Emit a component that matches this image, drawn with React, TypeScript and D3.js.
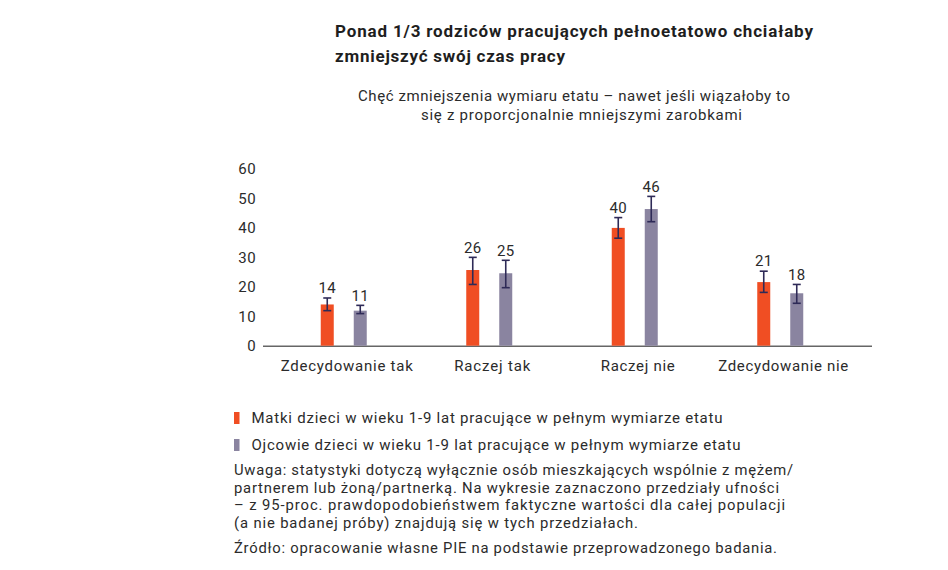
import React from "react";
import * as d3 from "d3";

const categories = ["Zdecydowanie tak", "Raczej tak", "Raczej nie", "Zdecydowanie nie"];
const mothers = [14.0, 25.7, 40.0, 21.6];
const mothersLow = [11.9, 20.8, 36.5, 18.1];
const mothersHigh = [16.2, 30.0, 43.5, 25.3];
const mothersLabels = ["14", "26", "40", "21"];
const fathers = [11.9, 24.6, 46.4, 17.8];
const fathersLow = [10.9, 19.7, 42.1, 14.4];
const fathersHigh = [13.7, 29.0, 50.7, 20.8];
const fathersLabels = ["11", "25", "46", "18"];
const yTicks = [0, 10, 20, 30, 40, 50, 60];

const titleLines = ["Ponad 1/3 rodziców pracujących pełnoetatowo chciałaby", "zmniejszyć swój czas pracy"];
const subtitleLines = ["Chęć zmniejszenia wymiaru etatu – nawet jeśli wiązałoby to", "się z proporcjonalnie mniejszymi zarobkami"];
const legendLabels = [
  "Matki dzieci w wieku 1-9 lat pracujące w pełnym wymiarze etatu",
  "Ojcowie dzieci w wieku 1-9 lat pracujące w pełnym wymiarze etatu",
];
const noteLines = [
  "Uwaga: statystyki dotyczą wyłącznie osób mieszkających wspólnie z mężem/",
  "partnerem lub żoną/partnerką. Na wykresie zaznaczono przedziały ufności",
  "– z 95-proc. prawdopodobieństwem faktyczne wartości dla całej populacji",
  "(a nie badanej próby) znajdują się w tych przedziałach.",
];
const sourceLine = "Źródło: opracowanie własne PIE na podstawie przeprowadzonego badania.";

// text widths (typographic fitting)
const titleWidths = [478, 230];
const subtitleWidths = [432, 321];
const categoryWidths = [132, 76, 74, 130];
const legendWidths = [471, 489];
const noteWidths = [559, 545, 551, 404];
const sourceWidth = 543;

const ORANGE = "#F04E23";
const GRAY = "#8A84A0";
const ERR = "#2E2A57";
const TEXT = "#2b2b2b";
const FONT = "Roboto, 'Open Sans', sans-serif";

export default function App() {
  const W = 948, H = 570;
  const x = d3.scaleBand<string>().domain(categories).range([271, 853]);
  const y = d3.scaleLinear().domain([0, 60]).range([345.7, 169]);
  const barW = 13;
  const off = 16.5;

  const series = [
    { vals: mothers, lo: mothersLow, hi: mothersHigh, labels: mothersLabels, color: ORANGE, dx: -off },
    { vals: fathers, lo: fathersLow, hi: fathersHigh, labels: fathersLabels, color: GRAY, dx: off },
  ];

  return (
    <svg width={W} height={H} style={{ position: "absolute", left: 0, top: 0, fontFamily: FONT }}>
      <rect width={W} height={H} fill="#fff" />
      {titleLines.map((t, i) => (
        <text key={t} x={335} y={37 + i * 25} fontSize={17} fontWeight={700} fill="#1e1e1e"
          textLength={titleWidths[i]} lengthAdjust="spacing">{t}</text>
      ))}
      {subtitleLines.map((t, i) => (
        <text key={t} x={i === 0 ? 358 : 421} y={101 + i * 18.5} fontSize={15} fill={TEXT}
          textLength={subtitleWidths[i]} lengthAdjust="spacing">{t}</text>
      ))}
      {yTicks.map((t) => (
        <text key={t} x={256} y={y(t)} dy="0.35em" fontSize={15} letterSpacing={0.4} textAnchor="end" fill={TEXT}>{t}</text>
      ))}
      <line x1={263} x2={872} y1={y(0) + 0.5} y2={y(0) + 0.5} stroke="#666" strokeWidth={1.5} />
      {categories.map((c, i) => (
        <text key={c} x={(x(c) as number) + x.bandwidth() / 2 + 3 - categoryWidths[i] / 2} y={371} fontSize={15} fill={TEXT}
          textLength={categoryWidths[i]} lengthAdjust="spacing">{c}</text>
      ))}
      {series.map((s, si) => (
        <g key={si}>
          {categories.map((c, i) => {
            const cx = (x(c) as number) + x.bandwidth() / 2 + s.dx;
            return (
              <g key={c}>
                <rect x={cx - barW / 2} y={y(s.vals[i])} width={barW} height={y(0) - y(s.vals[i])} fill={s.color} />
                <line x1={cx} x2={cx} y1={y(s.lo[i])} y2={y(s.hi[i])} stroke={ERR} strokeWidth={1.6} />
                <line x1={cx - 4} x2={cx + 4} y1={y(s.lo[i])} y2={y(s.lo[i])} stroke={ERR} strokeWidth={1.6} />
                <line x1={cx - 4} x2={cx + 4} y1={y(s.hi[i])} y2={y(s.hi[i])} stroke={ERR} strokeWidth={1.6} />
                <text x={cx} y={y(s.hi[i]) - 10} dy="0.35em" fontSize={15} letterSpacing={0.4} textAnchor="middle" fill={TEXT}>{s.labels[i]}</text>
              </g>
            );
          })}
        </g>
      ))}
      {legendLabels.map((t, i) => (
        <g key={t}>
          <rect x={234} y={412 + i * 27} width={5.5} height={12} fill={i === 0 ? ORANGE : GRAY} />
          <text x={251.5} y={418 + i * 27} dy="0.35em" fontSize={15} fill={TEXT}
            textLength={legendWidths[i]} lengthAdjust="spacing">{t}</text>
        </g>
      ))}
      {noteLines.map((t, i) => (
        <text key={t} x={234} y={475 + i * 17.7} fontSize={14.8} fill={TEXT}
          textLength={noteWidths[i]} lengthAdjust="spacing">{t}</text>
      ))}
      <text x={234} y={553} fontSize={14.8} fill={TEXT} textLength={sourceWidth} lengthAdjust="spacing">{sourceLine}</text>
    </svg>
  );
}
